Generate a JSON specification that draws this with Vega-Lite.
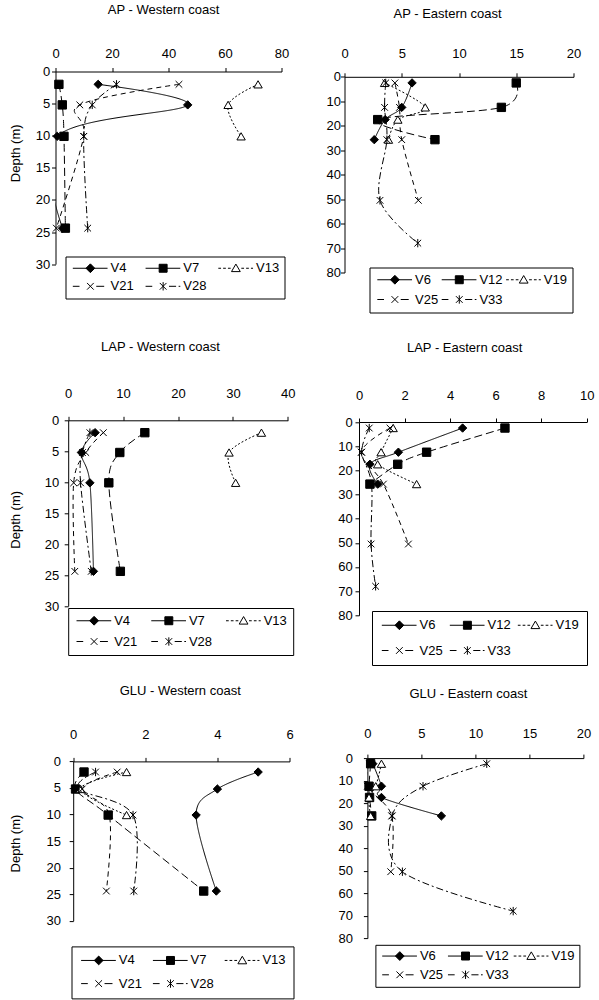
{
  "$schema": "https://vega.github.io/schema/vega-lite/v6.json",
  "background": "white",
  "padding": {"left": 8.5, "top": 3.5, "right": 0, "bottom": 0},
  "data": {"values": [
    {"panel":"APW","series":"V4","depth":2,"value":15.1},
    {"panel":"APW","series":"V4","depth":5.2,"value":46.8},
    {"panel":"APW","series":"V4","depth":10.1,"value":0.6},
    {"panel":"APW","series":"V4","depth":24.4,"value":2.5},
    {"panel":"APW","series":"V7","depth":2,"value":1.2},
    {"panel":"APW","series":"V7","depth":5.2,"value":2.4},
    {"panel":"APW","series":"V7","depth":10.1,"value":3.0},
    {"panel":"APW","series":"V7","depth":24.4,"value":3.5},
    {"panel":"APW","series":"V13","depth":2,"value":71.7},
    {"panel":"APW","series":"V13","depth":5.2,"value":61.1},
    {"panel":"APW","series":"V13","depth":10.1,"value":65.7},
    {"panel":"APW","series":"V21","depth":2,"value":43.7},
    {"panel":"APW","series":"V21","depth":5.2,"value":8.6},
    {"panel":"APW","series":"V21","depth":10.1,"value":10.0},
    {"panel":"APW","series":"V21","depth":24.4,"value":0.3},
    {"panel":"APW","series":"V28","depth":2,"value":21.6},
    {"panel":"APW","series":"V28","depth":5.2,"value":13.0},
    {"panel":"APW","series":"V28","depth":10.1,"value":10.0},
    {"panel":"APW","series":"V28","depth":24.4,"value":11.4},

    {"panel":"APE","series":"V6","depth":2.5,"value":5.9},
    {"panel":"APE","series":"V6","depth":12.5,"value":5.0},
    {"panel":"APE","series":"V6","depth":17.5,"value":3.55},
    {"panel":"APE","series":"V6","depth":25.7,"value":2.6},
    {"panel":"APE","series":"V12","depth":2.5,"value":15.0},
    {"panel":"APE","series":"V12","depth":12.5,"value":13.7},
    {"panel":"APE","series":"V12","depth":17.5,"value":2.9},
    {"panel":"APE","series":"V12","depth":25.7,"value":7.9},
    {"panel":"APE","series":"V19","depth":2.5,"value":3.5},
    {"panel":"APE","series":"V19","depth":12.5,"value":7.05},
    {"panel":"APE","series":"V19","depth":17.5,"value":4.66},
    {"panel":"APE","series":"V19","depth":25.7,"value":3.84},
    {"panel":"APE","series":"V25","depth":2.5,"value":4.4},
    {"panel":"APE","series":"V25","depth":12.5,"value":4.8},
    {"panel":"APE","series":"V25","depth":25.7,"value":5.0},
    {"panel":"APE","series":"V25","depth":50.5,"value":6.45},
    {"panel":"APE","series":"V33","depth":2.5,"value":3.6},
    {"panel":"APE","series":"V33","depth":12.5,"value":3.5},
    {"panel":"APE","series":"V33","depth":25.7,"value":3.7},
    {"panel":"APE","series":"V33","depth":50.5,"value":3.1},
    {"panel":"APE","series":"V33","depth":68,"value":6.4},

    {"panel":"LAPW","series":"V4","depth":2,"value":4.9},
    {"panel":"LAPW","series":"V4","depth":5.2,"value":2.4},
    {"panel":"LAPW","series":"V4","depth":10.1,"value":3.95},
    {"panel":"LAPW","series":"V4","depth":24.4,"value":4.6},
    {"panel":"LAPW","series":"V7","depth":2,"value":13.96},
    {"panel":"LAPW","series":"V7","depth":5.2,"value":9.4},
    {"panel":"LAPW","series":"V7","depth":10.1,"value":7.4},
    {"panel":"LAPW","series":"V7","depth":24.4,"value":9.5},
    {"panel":"LAPW","series":"V13","depth":2,"value":35.2},
    {"panel":"LAPW","series":"V13","depth":5.2,"value":29.3},
    {"panel":"LAPW","series":"V13","depth":10.1,"value":30.5},
    {"panel":"LAPW","series":"V21","depth":2,"value":6.4},
    {"panel":"LAPW","series":"V21","depth":5.2,"value":3.2},
    {"panel":"LAPW","series":"V21","depth":10.1,"value":1.0},
    {"panel":"LAPW","series":"V21","depth":24.4,"value":1.2},
    {"panel":"LAPW","series":"V28","depth":2,"value":3.95},
    {"panel":"LAPW","series":"V28","depth":5.2,"value":2.6},
    {"panel":"LAPW","series":"V28","depth":10.1,"value":2.25},
    {"panel":"LAPW","series":"V28","depth":24.4,"value":4.2},

    {"panel":"LAPE","series":"V6","depth":2.5,"value":4.55},
    {"panel":"LAPE","series":"V6","depth":12.5,"value":1.73},
    {"panel":"LAPE","series":"V6","depth":17.5,"value":0.48},
    {"panel":"LAPE","series":"V6","depth":25.7,"value":0.82},
    {"panel":"LAPE","series":"V12","depth":2.5,"value":6.41},
    {"panel":"LAPE","series":"V12","depth":12.5,"value":2.97},
    {"panel":"LAPE","series":"V12","depth":17.5,"value":1.7},
    {"panel":"LAPE","series":"V12","depth":25.7,"value":0.48},
    {"panel":"LAPE","series":"V19","depth":2.5,"value":1.5},
    {"panel":"LAPE","series":"V19","depth":12.5,"value":0.97},
    {"panel":"LAPE","series":"V19","depth":17.5,"value":0.82},
    {"panel":"LAPE","series":"V19","depth":25.7,"value":2.53},
    {"panel":"LAPE","series":"V25","depth":2.5,"value":1.36},
    {"panel":"LAPE","series":"V25","depth":12.5,"value":0.1},
    {"panel":"LAPE","series":"V25","depth":25.7,"value":1.07},
    {"panel":"LAPE","series":"V25","depth":50.5,"value":2.17},
    {"panel":"LAPE","series":"V33","depth":2.5,"value":0.45},
    {"panel":"LAPE","series":"V33","depth":12.5,"value":0.12},
    {"panel":"LAPE","series":"V33","depth":25.7,"value":0.55},
    {"panel":"LAPE","series":"V33","depth":50.5,"value":0.53},
    {"panel":"LAPE","series":"V33","depth":68,"value":0.73},

    {"panel":"GLUW","series":"V4","depth":2,"value":5.13},
    {"panel":"GLUW","series":"V4","depth":5.2,"value":4.0},
    {"panel":"GLUW","series":"V4","depth":10.1,"value":3.41},
    {"panel":"GLUW","series":"V4","depth":24.4,"value":3.97},
    {"panel":"GLUW","series":"V7","depth":2,"value":0.3},
    {"panel":"GLUW","series":"V7","depth":5.2,"value":0.065},
    {"panel":"GLUW","series":"V7","depth":10.1,"value":0.97},
    {"panel":"GLUW","series":"V7","depth":24.4,"value":3.62},
    {"panel":"GLUW","series":"V13","depth":2,"value":1.48},
    {"panel":"GLUW","series":"V13","depth":5.2,"value":0.2},
    {"panel":"GLUW","series":"V13","depth":10.1,"value":1.48},
    {"panel":"GLUW","series":"V21","depth":2,"value":1.22},
    {"panel":"GLUW","series":"V21","depth":5.2,"value":0.25},
    {"panel":"GLUW","series":"V21","depth":10.1,"value":1.0},
    {"panel":"GLUW","series":"V21","depth":24.4,"value":0.92},
    {"panel":"GLUW","series":"V28","depth":2,"value":0.62},
    {"panel":"GLUW","series":"V28","depth":5.2,"value":0.15},
    {"panel":"GLUW","series":"V28","depth":10.1,"value":1.66},
    {"panel":"GLUW","series":"V28","depth":24.4,"value":1.68},

    {"panel":"GLUE","series":"V6","depth":2.5,"value":0.5},
    {"panel":"GLUE","series":"V6","depth":12.5,"value":1.3},
    {"panel":"GLUE","series":"V6","depth":17.5,"value":1.3},
    {"panel":"GLUE","series":"V6","depth":25.7,"value":6.85},
    {"panel":"GLUE","series":"V12","depth":2.5,"value":0.3},
    {"panel":"GLUE","series":"V12","depth":12.5,"value":0.15},
    {"panel":"GLUE","series":"V12","depth":17.5,"value":0.2},
    {"panel":"GLUE","series":"V12","depth":25.7,"value":0.4},
    {"panel":"GLUE","series":"V19","depth":2.5,"value":1.3},
    {"panel":"GLUE","series":"V19","depth":12.5,"value":0.77},
    {"panel":"GLUE","series":"V19","depth":17.5,"value":0.15},
    {"panel":"GLUE","series":"V19","depth":25.7,"value":0.3},
    {"panel":"GLUE","series":"V25","depth":2.5,"value":0.2},
    {"panel":"GLUE","series":"V25","depth":12.5,"value":0.0},
    {"panel":"GLUE","series":"V25","depth":25.7,"value":2.25},
    {"panel":"GLUE","series":"V25","depth":50.5,"value":2.16},
    {"panel":"GLUE","series":"V33","depth":2.5,"value":11.05},
    {"panel":"GLUE","series":"V33","depth":12.5,"value":5.15},
    {"panel":"GLUE","series":"V33","depth":25.7,"value":2.3},
    {"panel":"GLUE","series":"V33","depth":50.5,"value":3.24},
    {"panel":"GLUE","series":"V33","depth":68,"value":13.5}
  ]},
  "spacing": 26.8,
  "resolve": {"scale": {"x":"independent","y":"independent","shape":"independent","fill":"independent","strokeDash":"independent"}, "legend": {"shape":"independent","fill":"independent","strokeDash":"independent"}},
  "vconcat": [
    {
      "hconcat": [
        {
          "title": {"text": "AP - Western coast", "offset": 30, "dx": -5},
          "width": 226, "height": 192.6,
          "transform": [{"filter": "datum.panel == 'APW'"}],
          "resolve": {"scale": {"shape":"independent","fill":"independent"}, "legend": {"shape":"independent","fill":"independent"}},
          "encoding": {
            "x": {"field":"value","type":"quantitative","scale":{"domain":[0,80],"range":[0,226],"nice":false,"zero":false},"axis":{"orient":"top","values":[0,20,40,60,80],"title":null,"labelPadding":7.2}},
            "y": {"field":"depth","type":"quantitative","scale":{"domain":[0,30],"range":[0,192.6],"nice":false,"zero":false},"axis":{"values":[0,5,10,15,20,25,30],"title":"Depth (m)","labelPadding":1.7,"titlePadding":13.3,"titleY":81.3}}
          },
          "layer": [
            {"mark":{"type":"line","interpolate":"cardinal","color":"black","strokeWidth":1,"clip":true},
             "encoding":{"strokeDash":{"field":"series","type":"nominal","scale":{"domain":["V4","V7","V13","V21","V28"],"range":[[1,0],[8,4],[2,2],[5,4],[7,3,2,3]]},"legend":null},"order":{"field":"depth","type":"quantitative"}}},
            {"mark":{"type":"point","size":70,"opacity":1,"stroke":"black","strokeWidth":1},
             "encoding":{"shape":{"field":"series","type":"nominal","scale":{"domain":["V4","V7","V13","V21","V28"],"range":["diamond","square","triangle-up","M-0.8,-0.8L0.8,0.8M-0.8,0.8L0.8,-0.8","M-0.8,-0.8L0.8,0.8M-0.8,0.8L0.8,-0.8M0,-1L0,1"]},"legend":null},
                         "fill":{"field":"series","type":"nominal","scale":{"domain":["V4","V7","V13","V21","V28"],"range":["black","black","white","transparent","transparent"]},"legend":null}}},
            {"transform":[{"filter":"false"}],
             "mark":{"type":"point","size":70,"opacity":1,"stroke":"black","strokeWidth":1},
             "encoding":{"shape":{"field":"series","type":"nominal","scale":{"domain":["V4","V7","V13","V21","V28"],"range":["M-1,0L7.3,0M3.2,-1.05L4.25,0L3.2,1.05L2.15,0Z","M-1,0L7.3,0M2.25,-0.95L4.15,-0.95L4.15,0.95L2.25,0.95Z","M-1,0L-0.35,0M0.15,0L0.8,0M1.3,0L1.95,0M4.5,0L5.15,0M5.65,0L6.3,0M6.8,0L7.3,0M3.2,-1L4.25,0.8L2.15,0.8Z","M-1,0L0.6,0M4.6,0L6.5,0M2.4,-0.8L4,0.8M2.4,0.8L4,-0.8","M-1,0L0.6,0M4.6,0L6.3,0M6.9,0L7.3,0M2.4,-0.8L4,0.8M2.4,0.8L4,-0.8M3.2,-1L3.2,1"]},
                                   "legend":{"orient":"none","direction":"horizontal","legendX":10,"legendY":185,"title":null,"columns":3,"padding":5,"columnPadding":8.75,"rowPadding":4.3,"encode":{"symbols":{"update":{"stroke":{"value":"black"},"strokeWidth":{"value":1}}}}}},
                         "fill":{"field":"series","type":"nominal","scale":{"domain":["V4","V7","V13","V21","V28"],"range":["black","black","white","transparent","transparent"]},
                                   "legend":{"orient":"none","direction":"horizontal","legendX":10,"legendY":185,"title":null,"columns":3,"padding":5,"columnPadding":8.75,"rowPadding":4.3,"encode":{"symbols":{"update":{"stroke":{"value":"black"},"strokeWidth":{"value":1}}}}}}}}
          ]
        },
        {
          "title": {"text": "AP - Eastern coast", "offset": 27, "dx": -11.4},
          "width": 229, "height": 201,
          "transform": [{"filter": "datum.panel == 'APE'"}],
          "resolve": {"scale": {"shape":"independent","fill":"independent"}, "legend": {"shape":"independent","fill":"independent"}},
          "encoding": {
            "x": {"field":"value","type":"quantitative","scale":{"domain":[0,20],"range":[0,229],"nice":false,"zero":false},"axis":{"orient":"top","offset":-5.3,"values":[0,5,10,15,20],"title":null,"labelPadding":12.2}},
            "y": {"field":"depth","type":"quantitative","scale":{"domain":[0,80],"range":[5.3,201],"nice":false,"zero":false},"axis":{"values":[0,10,20,30,40,50,60,70,80],"title":null,"labelPadding":0}}
          },
          "layer": [
            {"mark":{"type":"line","interpolate":"cardinal","color":"black","strokeWidth":1,"clip":true},
             "encoding":{"strokeDash":{"field":"series","type":"nominal","scale":{"domain":["V6","V12","V19","V25","V33"],"range":[[1,0],[8,4],[2,2],[5,4],[7,3,2,3]]},"legend":null},"order":{"field":"depth","type":"quantitative"}}},
            {"mark":{"type":"point","size":70,"opacity":1,"stroke":"black","strokeWidth":1},
             "encoding":{"shape":{"field":"series","type":"nominal","scale":{"domain":["V6","V12","V19","V25","V33"],"range":["diamond","square","triangle-up","M-0.8,-0.8L0.8,0.8M-0.8,0.8L0.8,-0.8","M-0.8,-0.8L0.8,0.8M-0.8,0.8L0.8,-0.8M0,-1L0,1"]},"legend":null},
                         "fill":{"field":"series","type":"nominal","scale":{"domain":["V6","V12","V19","V25","V33"],"range":["black","black","white","transparent","transparent"]},"legend":null}}},
            {"transform":[{"filter":"false"}],
             "mark":{"type":"point","size":70,"opacity":1,"stroke":"black","strokeWidth":1},
             "encoding":{"shape":{"field":"series","type":"nominal","scale":{"domain":["V6","V12","V19","V25","V33"],"range":["M-1,0L7.3,0M3.2,-1.05L4.25,0L3.2,1.05L2.15,0Z","M-1,0L7.3,0M2.25,-0.95L4.15,-0.95L4.15,0.95L2.25,0.95Z","M-1,0L-0.35,0M0.15,0L0.8,0M1.3,0L1.95,0M4.5,0L5.15,0M5.65,0L6.3,0M6.8,0L7.3,0M3.2,-1L4.25,0.8L2.15,0.8Z","M-1,0L0.6,0M4.6,0L6.5,0M2.4,-0.8L4,0.8M2.4,0.8L4,-0.8","M-1,0L0.6,0M4.6,0L6.3,0M6.9,0L7.3,0M2.4,-0.8L4,0.8M2.4,0.8L4,-0.8M3.2,-1L3.2,1"]},
                                   "legend":{"orient":"none","direction":"horizontal","legendX":25,"legendY":196,"title":null,"columns":3,"padding":5.5,"columnPadding":0.4,"rowPadding":6,"encode":{"symbols":{"update":{"stroke":{"value":"black"},"strokeWidth":{"value":1}}}}}},
                         "fill":{"field":"series","type":"nominal","scale":{"domain":["V6","V12","V19","V25","V33"],"range":["black","black","white","transparent","transparent"]},
                                   "legend":{"orient":"none","direction":"horizontal","legendX":25,"legendY":196,"title":null,"columns":3,"padding":5.5,"columnPadding":0.4,"rowPadding":6,"encode":{"symbols":{"update":{"stroke":{"value":"black"},"strokeWidth":{"value":1}}}}}}}}
          ]
        }
      ],
      "spacing": 36,
      "resolve": {"scale": {"x":"independent","y":"independent","shape":"independent","fill":"independent","strokeDash":"independent"}, "legend": {"shape":"independent","fill":"independent","strokeDash":"independent"}}
    },
    {
      "spacing": 17.8,
      "resolve": {"scale": {"x":"independent","y":"independent","shape":"independent","fill":"independent","strokeDash":"independent"}, "legend": {"shape":"independent","fill":"independent","strokeDash":"independent"}},
      "vconcat": [
        {
          "hconcat": [
            {
              "title": {"text": "LAP - Western coast", "offset": 34.3, "dx": -11.2},
              "width": 232.3, "height": 185.7,
              "transform": [{"filter": "datum.panel == 'LAPW'"}],
              "resolve": {"scale": {"shape":"independent","fill":"independent"}, "legend": {"shape":"independent","fill":"independent"}},
              "encoding": {
                "x": {"field":"value","type":"quantitative","scale":{"domain":[0,40],"range":[12.7,232.3],"nice":false,"zero":false},"axis":{"orient":"top","values":[0,10,20,30,40],"title":null,"labelPadding":15.5}},
                "y": {"field":"depth","type":"quantitative","scale":{"domain":[0,30],"range":[0,185.7],"nice":false,"zero":false},"axis":{"offset":-12.7,"values":[0,5,10,15,20,25,30],"title":"Depth (m)","labelPadding":5.4,"titlePadding":22.3,"titleY":99}}
              },
              "layer": [
                {"mark":{"type":"line","interpolate":"cardinal","color":"black","strokeWidth":1,"clip":true},
                 "encoding":{"strokeDash":{"field":"series","type":"nominal","scale":{"domain":["V4","V7","V13","V21","V28"],"range":[[1,0],[8,4],[2,2],[5,4],[7,3,2,3]]},"legend":null},"order":{"field":"depth","type":"quantitative"}}},
                {"mark":{"type":"point","size":70,"opacity":1,"stroke":"black","strokeWidth":1},
                 "encoding":{"shape":{"field":"series","type":"nominal","scale":{"domain":["V4","V7","V13","V21","V28"],"range":["diamond","square","triangle-up","M-0.8,-0.8L0.8,0.8M-0.8,0.8L0.8,-0.8","M-0.8,-0.8L0.8,0.8M-0.8,0.8L0.8,-0.8M0,-1L0,1"]},"legend":null},
                             "fill":{"field":"series","type":"nominal","scale":{"domain":["V4","V7","V13","V21","V28"],"range":["black","black","white","transparent","transparent"]},"legend":null}}},
                {"transform":[{"filter":"false"}],
                 "mark":{"type":"point","size":70,"opacity":1,"stroke":"black","strokeWidth":1},
                 "encoding":{"shape":{"field":"series","type":"nominal","scale":{"domain":["V4","V7","V13","V21","V28"],"range":["M-1,0L7.3,0M3.2,-1.05L4.25,0L3.2,1.05L2.15,0Z","M-1,0L7.3,0M2.25,-0.95L4.15,-0.95L4.15,0.95L2.25,0.95Z","M-1,0L-0.35,0M0.15,0L0.8,0M1.3,0L1.95,0M4.5,0L5.15,0M5.65,0L6.3,0M6.8,0L7.3,0M3.2,-1L4.25,0.8L2.15,0.8Z","M-1,0L0.6,0M4.6,0L6.5,0M2.4,-0.8L4,0.8M2.4,0.8L4,-0.8","M-1,0L0.6,0M4.6,0L6.3,0M6.9,0L7.3,0M2.4,-0.8L4,0.8M2.4,0.8L4,-0.8M3.2,-1L3.2,1"]},
                                       "legend":{"orient":"none","direction":"horizontal","legendX":12.7,"legendY":187.7,"title":null,"columns":3,"padding":6,"columnPadding":10.75,"rowPadding":7,"encode":{"symbols":{"update":{"stroke":{"value":"black"},"strokeWidth":{"value":1}}}}}},
                             "fill":{"field":"series","type":"nominal","scale":{"domain":["V4","V7","V13","V21","V28"],"range":["black","black","white","transparent","transparent"]},
                                       "legend":{"orient":"none","direction":"horizontal","legendX":12.7,"legendY":187.7,"title":null,"columns":3,"padding":6,"columnPadding":10.75,"rowPadding":7,"encode":{"symbols":{"update":{"stroke":{"value":"black"},"strokeWidth":{"value":1}}}}}}}}
              ]
            },
            {
              "title": {"text": "LAP - Eastern coast", "offset": 34.3, "dx": -8.2},
              "width": 227.7, "height": 195,
              "transform": [{"filter": "datum.panel == 'LAPE'"}],
              "resolve": {"scale": {"shape":"independent","fill":"independent"}, "legend": {"shape":"independent","fill":"independent"}},
              "encoding": {
                "x": {"field":"value","type":"quantitative","scale":{"domain":[0,10],"range":[0,227.7],"nice":false,"zero":false},"axis":{"orient":"top","offset":-1.7,"values":[0,2,4,6,8,10],"title":null,"labelPadding":15.5}},
                "y": {"field":"depth","type":"quantitative","scale":{"domain":[0,80],"range":[1.7,195],"nice":false,"zero":false},"axis":{"values":[0,10,20,30,40,50,60,70,80],"title":null,"labelPadding":2.8}}
              },
              "layer": [
                {"mark":{"type":"line","interpolate":"cardinal","color":"black","strokeWidth":1,"clip":true},
                 "encoding":{"strokeDash":{"field":"series","type":"nominal","scale":{"domain":["V6","V12","V19","V25","V33"],"range":[[1,0],[8,4],[2,2],[5,4],[7,3,2,3]]},"legend":null},"order":{"field":"depth","type":"quantitative"}}},
                {"mark":{"type":"point","size":70,"opacity":1,"stroke":"black","strokeWidth":1},
                 "encoding":{"shape":{"field":"series","type":"nominal","scale":{"domain":["V6","V12","V19","V25","V33"],"range":["diamond","square","triangle-up","M-0.8,-0.8L0.8,0.8M-0.8,0.8L0.8,-0.8","M-0.8,-0.8L0.8,0.8M-0.8,0.8L0.8,-0.8M0,-1L0,1"]},"legend":null},
                             "fill":{"field":"series","type":"nominal","scale":{"domain":["V6","V12","V19","V25","V33"],"range":["black","black","white","transparent","transparent"]},"legend":null}}},
                {"transform":[{"filter":"false"}],
                 "mark":{"type":"point","size":70,"opacity":1,"stroke":"black","strokeWidth":1},
                 "encoding":{"shape":{"field":"series","type":"nominal","scale":{"domain":["V6","V12","V19","V25","V33"],"range":["M-1,0L7.3,0M3.2,-1.05L4.25,0L3.2,1.05L2.15,0Z","M-1,0L7.3,0M2.25,-0.95L4.15,-0.95L4.15,0.95L2.25,0.95Z","M-1,0L-0.35,0M0.15,0L0.8,0M1.3,0L1.95,0M4.5,0L5.15,0M5.65,0L6.3,0M6.8,0L7.3,0M3.2,-1L4.25,0.8L2.15,0.8Z","M-1,0L0.6,0M4.6,0L6.5,0M2.4,-0.8L4,0.8M2.4,0.8L4,-0.8","M-1,0L0.6,0M4.6,0L6.3,0M6.9,0L7.3,0M2.4,-0.8L4,0.8M2.4,0.8L4,-0.8M3.2,-1L3.2,1"]},
                                       "legend":{"orient":"none","direction":"horizontal","legendX":13,"legendY":190.7,"title":null,"columns":3,"padding":7.5,"columnPadding":4,"rowPadding":11.5,"encode":{"symbols":{"update":{"stroke":{"value":"black"},"strokeWidth":{"value":1}}}}}},
                             "fill":{"field":"series","type":"nominal","scale":{"domain":["V6","V12","V19","V25","V33"],"range":["black","black","white","transparent","transparent"]},
                                       "legend":{"orient":"none","direction":"horizontal","legendX":13,"legendY":190.7,"title":null,"columns":3,"padding":7.5,"columnPadding":4,"rowPadding":11.5,"encode":{"symbols":{"update":{"stroke":{"value":"black"},"strokeWidth":{"value":1}}}}}}}}
              ]
            }
          ],
          "spacing": 41.5,
          "resolve": {"scale": {"x":"independent","y":"independent","shape":"independent","fill":"independent","strokeDash":"independent"}, "legend": {"shape":"independent","fill":"independent","strokeDash":"independent"}}
        },
        {
          "hconcat": [
            {
              "title": {"text": "GLU - Western coast", "offset": 30.7, "dx": 7.7},
              "width": 234, "height": 162.7,
              "transform": [{"filter": "datum.panel == 'GLUW'"}],
              "resolve": {"scale": {"shape":"independent","fill":"independent"}, "legend": {"shape":"independent","fill":"independent"}},
              "encoding": {
                "x": {"field":"value","type":"quantitative","scale":{"domain":[0,6],"range":[17.7,234],"nice":false,"zero":false},"axis":{"orient":"top","offset":-3.3,"values":[0,2,4,6],"title":null,"labelPadding":15.8}},
                "y": {"field":"depth","type":"quantitative","scale":{"domain":[0,30],"range":[3.3,162.7],"nice":false,"zero":false},"axis":{"offset":-17.7,"values":[0,5,10,15,20,25,30],"title":"Depth (m)","labelPadding":8.7,"titlePadding":24,"titleY":85}}
              },
              "layer": [
                {"mark":{"type":"line","interpolate":"cardinal","color":"black","strokeWidth":1,"clip":true},
                 "encoding":{"strokeDash":{"field":"series","type":"nominal","scale":{"domain":["V4","V7","V13","V21","V28"],"range":[[1,0],[8,4],[2,2],[5,4],[7,3,2,3]]},"legend":null},"order":{"field":"depth","type":"quantitative"}}},
                {"mark":{"type":"point","size":70,"opacity":1,"stroke":"black","strokeWidth":1},
                 "encoding":{"shape":{"field":"series","type":"nominal","scale":{"domain":["V4","V7","V13","V21","V28"],"range":["diamond","square","triangle-up","M-0.8,-0.8L0.8,0.8M-0.8,0.8L0.8,-0.8","M-0.8,-0.8L0.8,0.8M-0.8,0.8L0.8,-0.8M0,-1L0,1"]},"legend":null},
                             "fill":{"field":"series","type":"nominal","scale":{"domain":["V4","V7","V13","V21","V28"],"range":["black","black","white","transparent","transparent"]},"legend":null}}},
                {"transform":[{"filter":"false"}],
                 "mark":{"type":"point","size":70,"opacity":1,"stroke":"black","strokeWidth":1},
                 "encoding":{"shape":{"field":"series","type":"nominal","scale":{"domain":["V4","V7","V13","V21","V28"],"range":["M-1,0L7.3,0M3.2,-1.05L4.25,0L3.2,1.05L2.15,0Z","M-1,0L7.3,0M2.25,-0.95L4.15,-0.95L4.15,0.95L2.25,0.95Z","M-1,0L-0.35,0M0.15,0L0.8,0M1.3,0L1.95,0M4.5,0L5.15,0M5.65,0L6.3,0M6.8,0L7.3,0M3.2,-1L4.25,0.8L2.15,0.8Z","M-1,0L0.6,0M4.6,0L6.5,0M2.4,-0.8L4,0.8M2.4,0.8L4,-0.8","M-1,0L0.6,0M4.6,0L6.3,0M6.9,0L7.3,0M2.4,-0.8L4,0.8M2.4,0.8L4,-0.8M3.2,-1L3.2,1"]},
                                       "legend":{"orient":"none","direction":"horizontal","legendX":16,"legendY":188.3,"title":null,"columns":3,"padding":7.3,"columnPadding":7.8,"rowPadding":9.4,"encode":{"symbols":{"update":{"stroke":{"value":"black"},"strokeWidth":{"value":1}}}}}},
                             "fill":{"field":"series","type":"nominal","scale":{"domain":["V4","V7","V13","V21","V28"],"range":["black","black","white","transparent","transparent"]},
                                       "legend":{"orient":"none","direction":"horizontal","legendX":16,"legendY":188.3,"title":null,"columns":3,"padding":7.3,"columnPadding":7.8,"rowPadding":9.4,"encode":{"symbols":{"update":{"stroke":{"value":"black"},"strokeWidth":{"value":1}}}}}}}}
              ]
            },
            {
              "title": {"text": "GLU - Eastern coast", "offset": 26.3, "dx": -7},
              "width": 216, "height": 180,
              "transform": [{"filter": "datum.panel == 'GLUE'"}],
              "resolve": {"scale": {"shape":"independent","fill":"independent"}, "legend": {"shape":"independent","fill":"independent"}},
              "encoding": {
                "x": {"field":"value","type":"quantitative","scale":{"domain":[0,20],"range":[0,216],"nice":false,"zero":false},"axis":{"orient":"top","values":[0,5,10,15,20],"title":null,"labelPadding":13.5}},
                "y": {"field":"depth","type":"quantitative","scale":{"domain":[0,80],"range":[0,180],"nice":false,"zero":false},"axis":{"values":[0,10,20,30,40,50,60,70,80],"title":null,"labelPadding":11}}
              },
              "layer": [
                {"mark":{"type":"line","interpolate":"cardinal","color":"black","strokeWidth":1,"clip":true},
                 "encoding":{"strokeDash":{"field":"series","type":"nominal","scale":{"domain":["V6","V12","V19","V25","V33"],"range":[[1,0],[8,4],[2,2],[5,4],[7,3,2,3]]},"legend":null},"order":{"field":"depth","type":"quantitative"}}},
                {"mark":{"type":"point","size":70,"opacity":1,"stroke":"black","strokeWidth":1},
                 "encoding":{"shape":{"field":"series","type":"nominal","scale":{"domain":["V6","V12","V19","V25","V33"],"range":["diamond","square","triangle-up","M-0.8,-0.8L0.8,0.8M-0.8,0.8L0.8,-0.8","M-0.8,-0.8L0.8,0.8M-0.8,0.8L0.8,-0.8M0,-1L0,1"]},"legend":null},
                             "fill":{"field":"series","type":"nominal","scale":{"domain":["V6","V12","V19","V25","V33"],"range":["black","black","white","transparent","transparent"]},"legend":null}}},
                {"transform":[{"filter":"false"}],
                 "mark":{"type":"point","size":70,"opacity":1,"stroke":"black","strokeWidth":1},
                 "encoding":{"shape":{"field":"series","type":"nominal","scale":{"domain":["V6","V12","V19","V25","V33"],"range":["M-1,0L7.3,0M3.2,-1.05L4.25,0L3.2,1.05L2.15,0Z","M-1,0L7.3,0M2.25,-0.95L4.15,-0.95L4.15,0.95L2.25,0.95Z","M-1,0L-0.35,0M0.15,0L0.8,0M1.3,0L1.95,0M4.5,0L5.15,0M5.65,0L6.3,0M6.8,0L7.3,0M3.2,-1L4.25,0.8L2.15,0.8Z","M-1,0L0.6,0M4.6,0L6.5,0M2.4,-0.8L4,0.8M2.4,0.8L4,-0.8","M-1,0L0.6,0M4.6,0L6.3,0M6.9,0L7.3,0M2.4,-0.8L4,0.8M2.4,0.8L4,-0.8M3.2,-1L3.2,1"]},
                                       "legend":{"orient":"none","direction":"horizontal","legendX":8,"legendY":186.7,"title":null,"columns":3,"padding":4.5,"columnPadding":1.75,"rowPadding":5,"encode":{"symbols":{"update":{"stroke":{"value":"black"},"strokeWidth":{"value":1}}}}}},
                             "fill":{"field":"series","type":"nominal","scale":{"domain":["V6","V12","V19","V25","V33"],"range":["black","black","white","transparent","transparent"]},
                                       "legend":{"orient":"none","direction":"horizontal","legendX":8,"legendY":186.7,"title":null,"columns":3,"padding":4.5,"columnPadding":1.75,"rowPadding":5,"encode":{"symbols":{"update":{"stroke":{"value":"black"},"strokeWidth":{"value":1}}}}}}}}
              ]
            }
          ],
          "spacing": 42.9,
          "resolve": {"scale": {"x":"independent","y":"independent","shape":"independent","fill":"independent","strokeDash":"independent"}, "legend": {"shape":"independent","fill":"independent","strokeDash":"independent"}}
        }
      ]
    }
  ],
  "config": {
    "font": "Liberation Sans",
    "view": {"stroke": null},
    "axis": {"labelFont":"Liberation Sans","labelFontSize":13,"labelColor":"black","domainColor":"black","domainWidth":1,"tickColor":"black","tickSize":4,"tickWidth":1,"grid":false,"labelFlush":false,"labelOverlap":false,"titleFont":"Liberation Sans","titleFontSize":13,"titleFontWeight":"normal","titleColor":"black"},
    "title": {"font":"Liberation Sans","fontSize":13,"fontWeight":"normal","color":"black","frame":"group","anchor":"middle"},
    "legend": {"strokeColor":"black","fillColor":"white","symbolSize":70,"symbolStrokeColor":"black","symbolStrokeWidth":1,"symbolOpacity":1,"labelOffset":27,"labelFont":"Liberation Sans","labelFontSize":13,"labelColor":"black","labelLimit":0}
  }
}
